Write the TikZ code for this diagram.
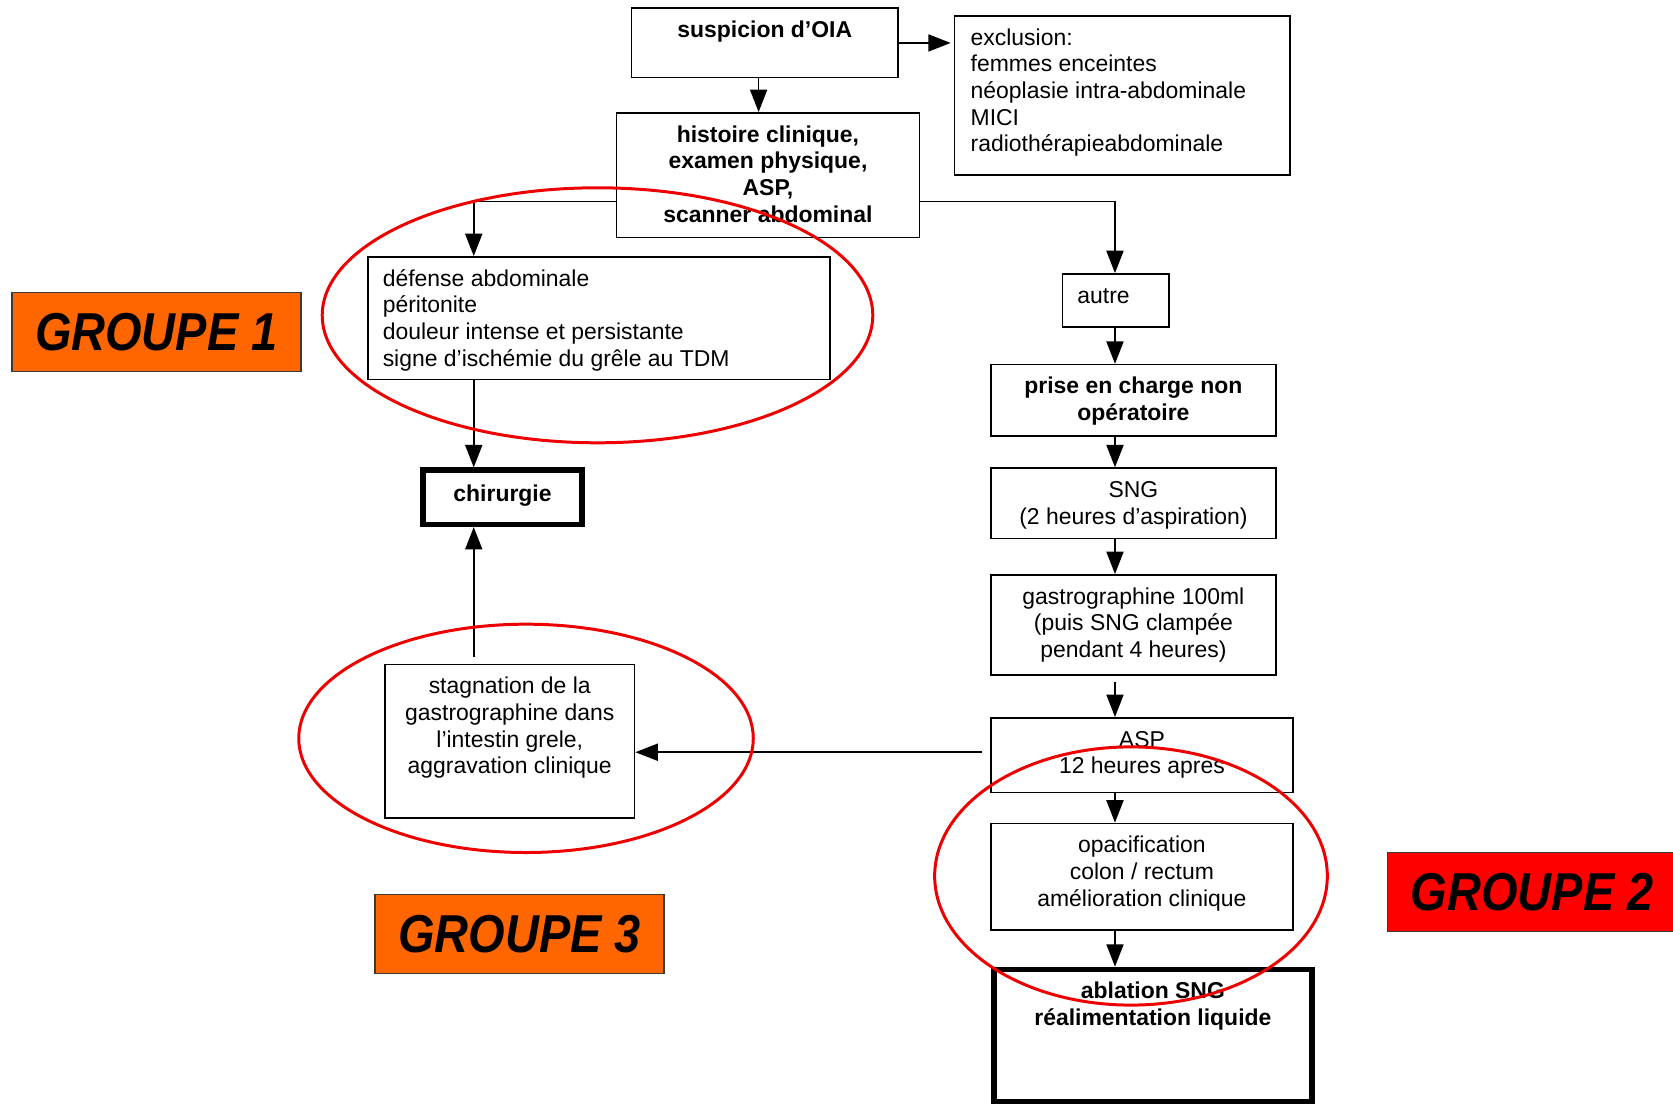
\documentclass[tikz,border=0pt]{standalone}
\usepackage{fontspec}
\usepackage{graphicx}
\setmainfont{Liberation Sans}
\usetikzlibrary{arrows.meta}
\definecolor{grporange}{HTML}{FF6600}
\definecolor{grpred}{HTML}{FF0000}
\definecolor{grpborder}{HTML}{3A3A3A}
\definecolor{ringred}{HTML}{EE0000}
\newcommand{\bodyfont}{\fontsize{21.5}{25}\selectfont}
\newcommand{\cbox}[4][10]{\parbox[c][#3pt][t]{#2pt}{\vspace*{#1pt}\centering\strut #4}}
\newcommand{\lbox}[4]{\parbox[c][#2pt][t]{#1pt}{\vspace*{10pt}\raggedright\leftskip=#3pt\strut #4}}
\tikzset{
  box/.style={draw, line width=1.5pt, inner sep=0pt, anchor=north west, font=\bodyfont},
  boldbox/.style={box, font=\bodyfont\bfseries},
  thickbox/.style={boldbox, line width=5pt},
  arr/.style={line width=1.5pt, -{Triangle[length=21pt,width=16pt]}},
  grp/.style={draw=grpborder, line width=1.5pt, inner sep=0pt, minimum width=271pt, minimum height=74pt, font=\fontsize{50}{50}\selectfont\bfseries\itshape},
  ring/.style={draw=ringred, line width=2.8pt}
}
\begin{document}
\begin{tikzpicture}[x=1pt,y=-1pt]
\fill[white] (0,0) rectangle (1568,1034);
\useasboundingbox (0,0) rectangle (1568,1034);

% helper coordinates
\coordinate (colL) at (444,0);
\coordinate (colM) at (711,0);
\coordinate (colR) at (1045,0);
\coordinate (rowA) at (0,189);
\coordinate (rowB) at (0,705);

% boxes
\node[boldbox] (susp) at (591,7) {\cbox{250}{65}{suspicion d’OIA}};
\node[box] (excl) at (894,14) {\lbox{314}{149}{15}{exclusion:\\ femmes enceintes\\ néoplasie intra-abdominale\\ MICI\\ radiothérapieabdominale}};
\node[boldbox] (hist) at (577,105) {\cbox{284}{117}{histoire clinique,\\ examen physique,\\ ASP,\\ scanner abdominal}};
\node[box] (defense) at (344,240) {\lbox{433}{115}{14}{défense abdominale\\ péritonite\\ douleur intense et persistante\\ signe d’ischémie du grêle au TDM}};
\node[thickbox] (chir) at (394,438) {\cbox[12]{149}{51}{chirurgie}};
\node[box] (stag) at (360,622) {\cbox{234}{144}{stagnation de la\\ gastrographine dans\\ l’intestin grele,\\ aggravation clinique}};
\node[box] (autre) at (995,256) {\lbox{100}{50}{14}{autre}};
\node[boldbox] (prise) at (928,341) {\cbox{267}{67}{prise en charge non\\ opératoire}};
\node[box] (sng) at (928,438) {\cbox{267}{66}{SNG\\ (2 heures d’aspiration)}};
\node[box] (gastro) at (928,538) {\cbox{267}{94}{gastrographine 100ml\\ (puis SNG clampée\\ pendant 4 heures)}};
\node[box] (asp) at (928,672) {\cbox{283}{70}{ASP\\ 12 heures apres}};
\node[box] (opac) at (928,771) {\cbox{283}{100}{opacification\\ colon / rectum\\ amélioration clinique}};
\node[thickbox] (abl) at (929,906) {\cbox{298}{124}{ablation SNG\\ réalimentation liquide}};

% group labels
\node[grp, fill=grporange] (g1) at (146.5,311) {\scalebox{0.88}[1]{GROUPE 1}};
\node[grp, fill=grporange] (g3) at (487,875.5) {\scalebox{0.88}[1]{GROUPE 3}};
\node[grp, fill=grpred] (g2) at (1436,836) {\scalebox{0.88}[1]{GROUPE 2}};

% auxiliary ends
\coordinate (stagtop) at ([yshift=6pt]stag.north);
\coordinate (gastrobot) at ([yshift=-6pt]gastro.south);
\coordinate (aspleft) at ([xshift=-8pt]asp.west);

% connectors
\draw[arr, shorten >=3pt] (susp.east) -- (susp.east -| excl.west);
\draw[arr] (susp.south -| colM) -- (hist.north -| colM);
\draw[arr] (hist.west |- rowA) -- (rowA -| colL) -- (defense.north -| colL);
\draw[arr] (hist.east |- rowA) -- (rowA -| colR) -- (autre.north -| colR);
\draw[arr] (defense.south -| colL) -- (chir.north -| colL);
\draw[arr] (stagtop -| colL) -- (chir.south -| colL);
\draw[arr] (autre.south -| colR) -- (prise.north -| colR);
\draw[arr] (prise.south -| colR) -- (sng.north -| colR);
\draw[arr] (sng.south -| colR) -- (gastro.north -| colR);
\draw[arr] (gastrobot -| colR) -- (asp.north -| colR);
\draw[arr] (asp.south -| colR) -- (opac.north -| colR);
\draw[arr] (opac.south -| colR) -- (abl.north -| colR);
\draw[arr] (aspleft |- rowB) -- (stag.east |- rowB);

% red rings
\draw[ring] (560,295.5) ellipse [x radius=258pt, y radius=119.5pt];
\draw[ring] (493,692) ellipse [x radius=213pt, y radius=107pt];
\draw[ring] (1060,821) ellipse [x radius=184pt, y radius=121pt];
\end{tikzpicture}
\end{document}
